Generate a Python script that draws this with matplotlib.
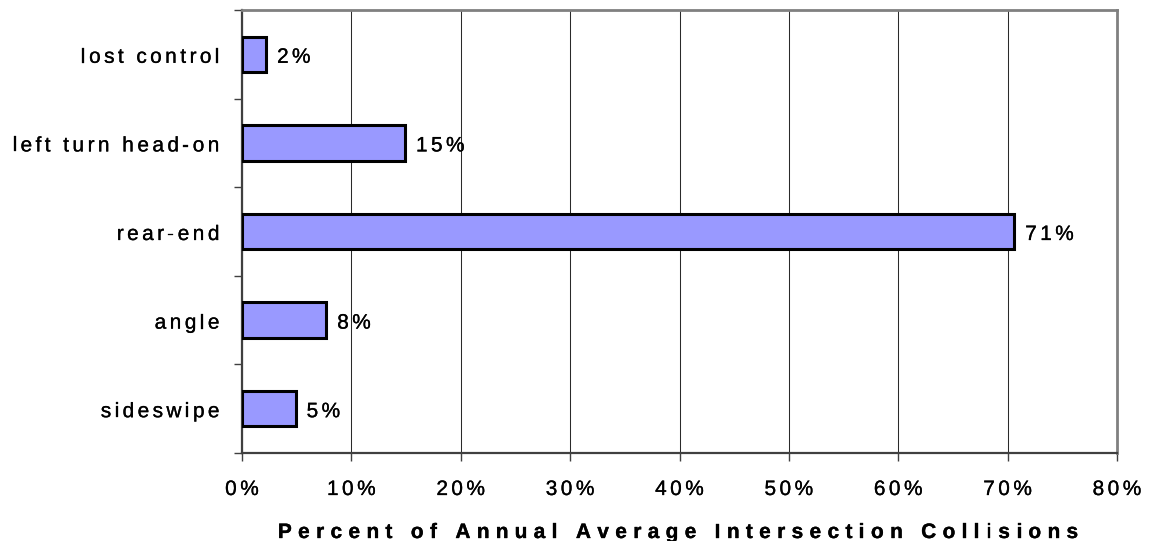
import matplotlib
matplotlib.use("Agg")
import matplotlib.pyplot as plt
import matplotlib.patheffects as pe
import numpy as np

# Collision types (bottom to top) and their share of annual average intersection collisions (%)
categories = ["sideswipe", "angle", "rear-end", "left turn head-on", "lost control"]
values = [4.9, 7.7, 70.6, 14.9, 2.2]
x_ticks = [0, 10, 20, 30, 40, 50, 60, 70, 80]
x_tick_labels = ["0%", "10%", "20%", "30%", "40%", "50%", "60%", "70%", "80%"]
x_title = "Percent of Annual Average Intersection Collisions"

plt.rcParams["font.family"] = ["Liberation Sans", "DejaVu Sans"]

W, H = 1162, 541
fig = plt.figure(figsize=(W / 100, H / 100), dpi=100)
ax = fig.add_axes([242 / W, 1 - 453 / H, (1117 - 242) / W, (453 - 10) / H])

pos = np.arange(len(categories))
ax.barh(pos, values, height=0.4, color="#9999FF", edgecolor="black",
        linewidth=2.2, zorder=3)

ax.set_xlim(0, 80)
ax.set_ylim(-0.5, len(categories) - 0.5)

ax.set_xticks(x_ticks)
ax.set_xticklabels([])
ax.tick_params(axis="x", direction="out", length=5.5, width=1, color="#404040")

ax.set_yticks(pos)
ax.set_yticklabels([])
ax.set_yticks(np.arange(-0.5, len(categories), 1.0), minor=True)
ax.tick_params(axis="y", which="major", length=0)
ax.tick_params(axis="y", which="minor", direction="out", length=5.5, width=1, color="#404040")

ax.grid(axis="x", color="#2a2a2a", linewidth=0.75, zorder=0)
ax.set_axisbelow(True)

for side in ("top", "right"):
    ax.spines[side].set_color("#808080")
    ax.spines[side].set_linewidth(2)
for side in ("left", "bottom"):
    ax.spines[side].set_color("#404040")
    ax.spines[side].set_linewidth(1.6)

fig.canvas.draw()
renderer = fig.canvas.get_renderer()


def spaced_text(x, y, s, ha="left", size=15, weight="normal", spacing=3.5, stroke=0.2):
    """Draw letter-spaced text at pixel position (x, baseline y from top)."""
    px = size * 100 / 72
    widths = []
    for ch in s:
        if ch == " ":
            widths.append(0.278 * px)
            continue
        t = fig.text(0, 0, ch, fontsize=size, fontweight=weight, transform=None)
        widths.append(t.get_window_extent(renderer).width)
        t.remove()
    total = sum(widths) + spacing * (len(s) - 1)
    if ha == "right":
        x0 = x - total
    elif ha == "center":
        x0 = x - total / 2
    else:
        x0 = x
    effects = [pe.withStroke(linewidth=stroke, foreground="black")]
    cur = x0
    for ch, w in zip(s, widths):
        if ch != " ":
            fig.text(cur / W, 1 - y / H, ch, fontsize=size, fontweight=weight,
                     ha="left", va="baseline", path_effects=effects)
        cur += w + spacing


def to_px(xv, yv):
    dx, dy = ax.transData.transform((xv, yv))
    return dx, H - dy


# Category labels
for p, name in zip(pos, categories):
    _, yc = to_px(0, p)
    spaced_text(219.5, yc + 8.5, name, ha="right", size=15, spacing=3.4)

# Value labels beside each bar
for p, v in zip(pos, values):
    xe, yc = to_px(v, p)
    spaced_text(xe + 11, yc + 8.5, f"{round(v)}%", size=15, spacing=3.4)

# Percentage tick labels
for xv, lab in zip(x_ticks, x_tick_labels):
    xp, _ = to_px(xv, 0)
    spaced_text(xp, 495, lab, ha="center", size=15, spacing=3.4)

# Bold, widely spaced axis title
spaced_text(678, 538, x_title, ha="center", size=15, weight="bold", spacing=6.3,
            stroke=0.25)

fig.savefig("out.png", dpi=100)
